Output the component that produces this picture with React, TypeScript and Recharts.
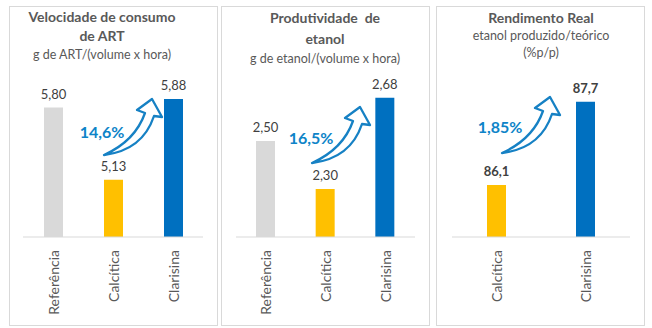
import React from "react";
import { BarChart, Bar, XAxis, YAxis, Cell, LabelList } from "recharts";

const FONT = "Lato, 'Open Sans', sans-serif";

const categoriasTres = ["Referência", "Calcítica", "Clarisina"];
const categoriasDuas = ["Calcítica", "Clarisina"];
const consumoValores = [5.8, 5.13, 5.88];
const produtividadeValores = [2.5, 2.3, 2.68];
const rendimentoValores = [86.1, 87.7];
const coresTres = ["#D9D9D9", "#FFC000", "#0070C0"];
const coresDuas = ["#FFC000", "#0070C0"];
const ganhos = ["14,6%", "16,5%", "1,85%"];

interface Linha { text: string; y: number; bold?: boolean; size: number }
interface PanelProps {
  left: number;
  cx: number;
  linhas: Linha[];
  categorias: string[];
  valores: number[];
  cores: string[];
  domain: [number, number];
  margin: { top: number; right: number; left: number; bottom: number };
  casas: number;
  negrito?: boolean;
}

const CategoryTick = (props: any) => {
  const { x, y, payload } = props;
  return (
    <text
      transform={`translate(${x},${y + 5}) rotate(-90)`}
      textAnchor="end"
      dominantBaseline="central"
      fill="#595959"
      fontSize={14}
      fontFamily={FONT}
    >
      {payload.value}
    </text>
  );
};

function Panel({ left, cx, linhas, categorias, valores, cores, domain, margin, casas, negrito }: PanelProps) {
  const data = categorias.map((c, i) => ({ name: c, value: valores[i] }));
  return (
    <>
      <div
        style={{
          position: "absolute", left, top: 6, width: 209, height: 320,
          boxSizing: "border-box", border: "1px solid #D9D9D9", background: "#fff",
        }}
      />
      {linhas.map((l, i) => (
        <div
          key={i}
          style={{
            position: "absolute", left: cx - 110, width: 220, top: l.y - 10, height: 20, lineHeight: "20px",
            textAlign: "center", whiteSpace: "pre", color: "#595959", fontFamily: FONT,
            fontWeight: l.bold ? 700 : 400, fontSize: l.size,
          }}
        >
          {l.text}
        </div>
      ))}
      <div style={{ position: "absolute", left, top: 0 }}>
        <BarChart width={209} height={328} data={data} margin={margin}>
          <YAxis hide type="number" domain={domain} allowDataOverflow />
          <XAxis
            dataKey="name"
            height={80}
            axisLine={{ stroke: "#D9D9D9" }}
            tickLine={false}
            interval={0}
            tick={<CategoryTick />}
          />
          <Bar dataKey="value" barSize={19} isAnimationActive={false}>
            {data.map((_, i) => (
              <Cell key={i} fill={cores[i]} />
            ))}
            <LabelList
              dataKey="value"
              position="top"
              offset={9}
              formatter={(v: any) => Number(v).toFixed(casas).replace(".", ",")}
              fill="#404040"
              fontSize={13}
              fontFamily={FONT}
              fontWeight={negrito ? 700 : 400}
            />
          </Bar>
        </BarChart>
      </div>
    </>
  );
}

// contorno da seta curva, origem na cauda
const ARROW = "M 0 0 C 25 -3 42 -15 50 -39 L 58 -38 L 48 -56 L 33 -45 L 41 -42 C 34 -22 20 -9 0 0 Z";

const setas = [
  { tail: [104, 155], label: [102, 131] },
  { tail: [312, 163], label: [311, 137] },
  { tail: [502, 153], label: [500, 126] },
];

export default function App() {
  return (
    <div style={{ position: "absolute", left: 0, top: 0, width: 652, height: 328, background: "#fff", overflow: "hidden" }}>
      <Panel
        left={9}
        cx={102}
        linhas={[
          { text: "Velocidade de consumo", y: 17, bold: true, size: 14 },
          { text: "de ART", y: 36, bold: true, size: 14 },
          { text: "g de ART/(volume x hora)", y: 55, size: 12.5 },
        ]}
        categorias={categoriasTres}
        valores={consumoValores}
        cores={coresTres}
        domain={[4.6, 6.0]}
        margin={{ top: 86, right: 15, left: 14, bottom: 11 }}
        casas={2}
      />
      <Panel
        left={221}
        cx={325}
        linhas={[
          { text: "Produtividade  de", y: 18, bold: true, size: 14 },
          { text: "etanol", y: 39, bold: true, size: 14 },
          { text: "g de etanol/(volume x hora)", y: 59, size: 12.5 },
        ]}
        categorias={categoriasTres}
        valores={produtividadeValores}
        cores={coresTres}
        domain={[2.1, 2.7]}
        margin={{ top: 93, right: 15, left: 15, bottom: 11 }}
        casas={2}
      />
      <Panel
        left={436}
        cx={541}
        linhas={[
          { text: "Rendimento Real", y: 18, bold: true, size: 14 },
          { text: "etanol produzido/teórico", y: 36, size: 12.5 },
          { text: "(%p/p)", y: 53, size: 12.5 },
        ]}
        categorias={categoriasDuas}
        valores={rendimentoValores}
        cores={coresDuas}
        domain={[85.1, 88.1]}
        margin={{ top: 81, right: 15, left: 16, bottom: 11 }}
        casas={1}
        negrito
      />
      <svg width={652} height={328} style={{ position: "absolute", left: 0, top: 0, pointerEvents: "none" }}>
        {setas.map((s, i) => (
          <g key={i}>
            <path
              d={ARROW}
              transform={`translate(${s.tail[0]},${s.tail[1]})`}
              fill="#fff"
              stroke="#1681C4"
              strokeWidth={2.3}
              strokeLinejoin="round"
            />
            <text
              x={s.label[0]}
              y={s.label[1]}
              textAnchor="middle"
              dominantBaseline="central"
              fill="#0E84C8"
              fontSize={16}
              fontWeight={700}
              fontFamily={FONT}
            >
              {ganhos[i]}
            </text>
          </g>
        ))}
      </svg>
    </div>
  );
}
